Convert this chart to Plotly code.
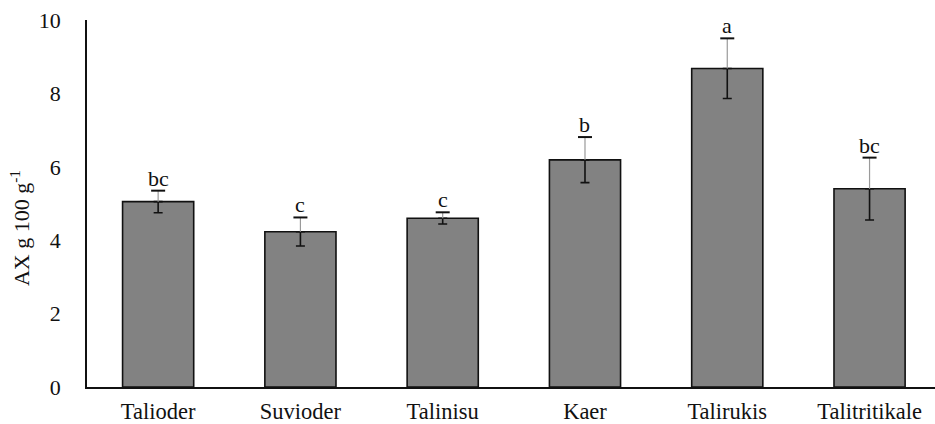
import plotly.graph_objects as go

categories = ["Talioder", "Suvioder", "Talinisu", "Kaer", "Talirukis", "Talitritikale"]
values = [5.05, 4.23, 4.60, 6.19, 8.68, 5.40]
errors = [0.30, 0.39, 0.16, 0.62, 0.82, 0.85]
letters = ["bc", "c", "c", "b", "a", "bc"]
y_ticks = [0, 2, 4, 6, 8, 10]

FONT = "Liberation Serif, Times New Roman, serif"
FS = 22
tops = [v + e for v, e in zip(values, errors)]

fig = go.Figure()

# bars with lower half of the error bars (black)
fig.add_trace(go.Bar(
    x=categories, y=values, width=0.5,
    marker=dict(color="#828282", line=dict(color="#111111", width=1.6)),
    error_y=dict(type="data", symmetric=False, array=[0] * len(errors),
                 arrayminus=errors, color="#111111", thickness=1.6, width=4.5),
    showlegend=False, hoverinfo="skip",
))
# upper half of error bars (appears grey)
fig.add_trace(go.Scatter(
    x=categories, y=values, mode="markers", marker=dict(size=1, color="rgba(0,0,0,0)"),
    error_y=dict(type="data", symmetric=False, array=errors,
                 arrayminus=[0] * len(errors), color="#9a9a9a", thickness=1.2, width=0),
    showlegend=False, hoverinfo="skip",
))
# black caps at the top
fig.add_trace(go.Scatter(
    x=categories, y=tops, mode="markers",
    marker=dict(symbol="line-ew", size=10, line=dict(color="#111111", width=2)),
    showlegend=False, hoverinfo="skip",
))

for c, t, l in zip(categories, tops, letters):
    fig.add_annotation(x=c, y=t, text=l, showarrow=False, yanchor="bottom",
                       yshift=-2, font=dict(family=FONT, size=FS, color="#111111"))

# y-axis title as a rotated annotation (positioned like the reference)
fig.add_annotation(xref="paper", yref="paper", x=0, y=0.433, xanchor="center", yanchor="middle",
                   xshift=-67, textangle=-90, showarrow=False,
                   text="AX g 100 g<sup>-1</sup>",
                   font=dict(family=FONT, size=22, color="#111111"))

fig.update_layout(
    width=935, height=424,
    margin=dict(l=87, r=0, t=20, b=37, autoexpand=False),
    plot_bgcolor="white", paper_bgcolor="white",
    font=dict(family=FONT, size=FS, color="#111111"),
    bargap=0.5,
)
fig.update_xaxes(
    range=[-0.5, 5.46], showline=True, linecolor="#111111", linewidth=1.6,
    ticks="", showgrid=False, zeroline=False, ticklabelstandoff=3,
    tickfont=dict(family=FONT, size=22.5, color="#111111"),
)
fig.update_yaxes(
    range=[0, 10], tickvals=y_ticks, showline=True, linecolor="#111111", linewidth=1.6,
    ticks="", showgrid=False, zeroline=False, ticklabelstandoff=20,
    tickfont=dict(family=FONT, size=FS, color="#111111"),
)

fig.write_html(
    "out.html",
    config={"displayModeBar": False},
    post_script="document.body.style.margin='0';document.body.style.padding='0';"
                "document.body.style.overflow='hidden';",
)
